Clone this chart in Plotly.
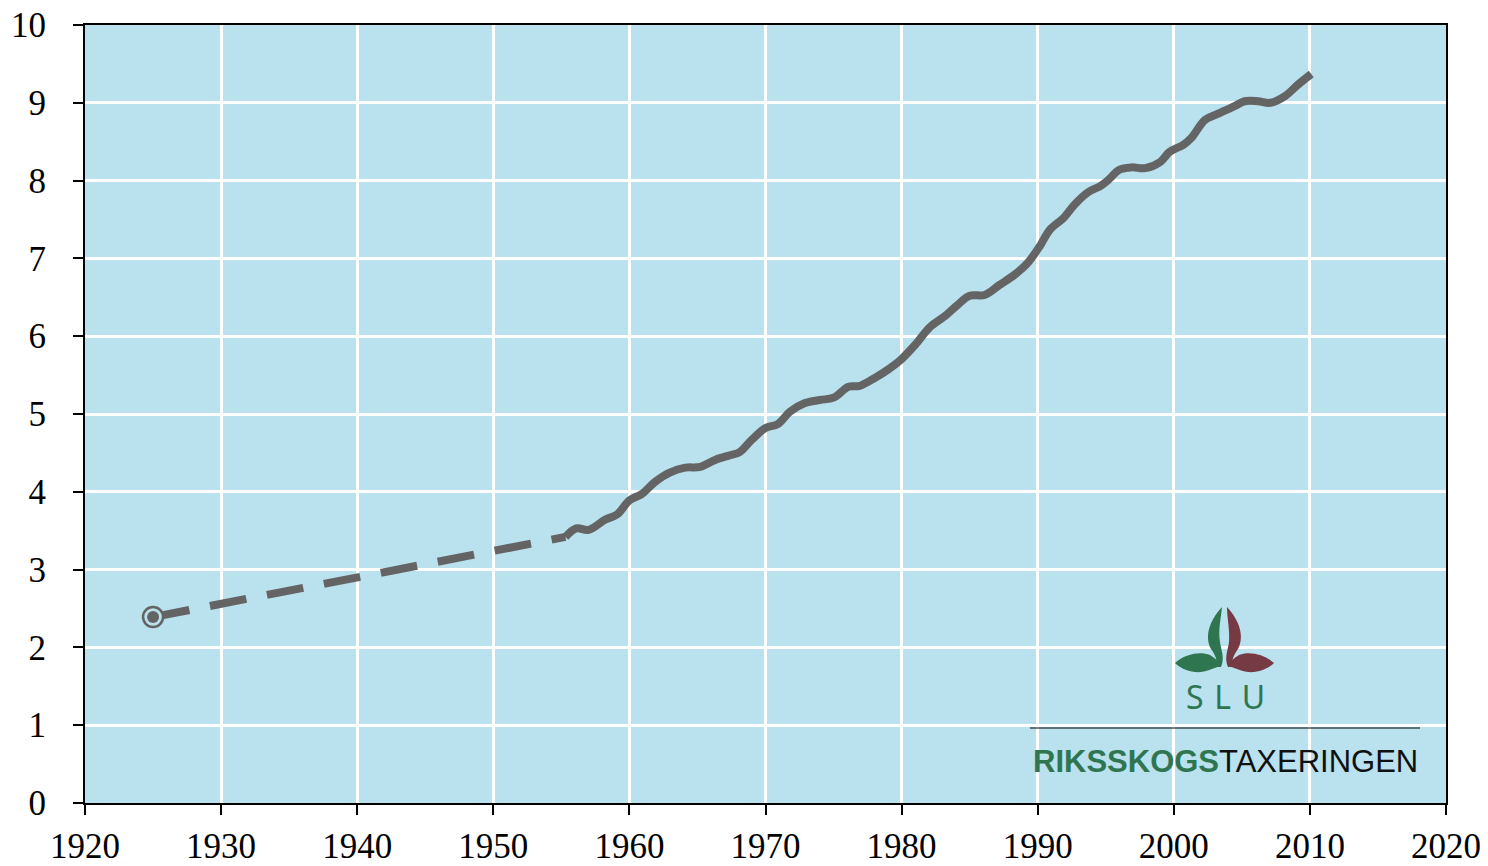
import plotly.graph_objects as go

# Dashed (early estimate) segment
years_dash = [1925, 1940, 1955.3]
vals_dash = [2.39, 2.90, 3.42]

# Solid segment
years_solid = [1955.3, 1956.1, 1957.0, 1958.2, 1959.1, 1960.0, 1960.9, 1961.9, 1963.0, 1964.1,
               1965.2, 1966.3, 1967.4, 1968.1, 1969.0, 1970.0, 1970.9, 1971.8, 1972.9, 1974.0,
               1975.0, 1976.1, 1976.9, 1978.0, 1979.0, 1979.9, 1981.0, 1982.1, 1983.2, 1984.1,
               1985.0, 1986.1, 1987.2, 1988.3, 1989.3, 1990.2, 1990.9, 1991.9, 1992.7, 1993.7,
               1994.6, 1995.2, 1996.0, 1996.9, 1997.9, 1999.0, 1999.7, 2000.7, 2001.3, 2002.3,
               2003.4, 2004.5, 2005.2, 2006.2, 2007.1, 2008.2, 2009.1, 2010.1]
vals_solid = [3.42, 3.53, 3.51, 3.64, 3.71, 3.89, 3.97, 4.13, 4.25, 4.31,
              4.32, 4.41, 4.47, 4.51, 4.67, 4.82, 4.87, 5.03, 5.14, 5.18,
              5.21, 5.35, 5.36, 5.46, 5.57, 5.69, 5.89, 6.12, 6.26, 6.40,
              6.52, 6.53, 6.66, 6.79, 6.95, 7.17, 7.37, 7.52, 7.69, 7.85,
              7.93, 8.01, 8.14, 8.17, 8.16, 8.24, 8.37, 8.46, 8.55, 8.78,
              8.87, 8.96, 9.02, 9.02, 9.00, 9.09, 9.23, 9.37]

x_ticks = [1920, 1930, 1940, 1950, 1960, 1970, 1980, 1990, 2000, 2010, 2020]
y_ticks = list(range(0, 11))

LINE = "#646464"
GREEN = "#2E7550"
MAROON = "#763A44"
BG = "#BAE1EE"

fig = go.Figure()
fig.add_trace(go.Scatter(x=years_dash, y=vals_dash, mode="lines",
                         line=dict(color=LINE, width=8, dash="37px,21px"),
                         showlegend=False, hoverinfo="skip"))
fig.add_trace(go.Scatter(x=years_solid, y=vals_solid, mode="lines",
                         line=dict(color=LINE, width=8, shape="spline", smoothing=1.0),
                         showlegend=False))
# start marker: ring + center dot
fig.add_trace(go.Scatter(x=[years_dash[0]], y=[vals_dash[0]], mode="markers",
                         marker=dict(symbol="circle", size=20, color=BG,
                                     line=dict(color=LINE, width=2.5)),
                         showlegend=False, hoverinfo="skip"))
fig.add_trace(go.Scatter(x=[years_dash[0]], y=[vals_dash[0]], mode="markers",
                         marker=dict(symbol="circle", size=12, color=LINE,
                                     line=dict(width=0)),
                         showlegend=False))

axis_common = dict(showline=True, linecolor="black", linewidth=2, mirror=True,
                   ticks="outside", ticklen=10, tickwidth=1.5, tickcolor="black",
                   showgrid=True, gridcolor="white", gridwidth=3, zeroline=False,
                   automargin=False,
                   tickfont=dict(family="Liberation Serif", size=35, color="black"))

fig.update_xaxes(range=[1920, 2020], tickvals=x_ticks, ticklabelstandoff=1, **axis_common)
fig.update_yaxes(range=[0, 10], tickvals=y_ticks, ticklabelstandoff=20, **axis_common)

W, H = 1488, 866
L, T, PW, PH = 85, 25, 1361, 778

def px(x, y):
    return f"{(x - L) / PW:.5f},{(T + PH - y) / PH:.5f}"

def path_from(seq):
    out = []
    for cmd, pts in seq:
        coords = " ".join(px(*p) for p in pts)
        out.append(f"{cmd}{coords}")
    return " ".join(out) + " Z"

def fx(x):
    return (x - L) / PW

def fy(y):
    return (T + PH - y) / PH

ul = path_from([("M", [(1222, 607)]),
                ("C", [(1210, 620), (1204, 636), (1211, 649)]),
                ("C", [(1216, 656), (1218, 662), (1216, 667)]),
                ("L", [(1221, 667)]),
                ("C", [(1225, 658), (1221, 650), (1220, 642)]),
                ("C", [(1218, 630), (1221, 618), (1222, 607)])])
ll = path_from([("M", [(1175, 663)]),
                ("C", [(1185, 654), (1200, 651), (1210, 655)]),
                ("C", [(1215, 658), (1218, 662), (1221, 662)]),
                ("L", [(1221, 666)]),
                ("C", [(1213, 668), (1205, 673), (1195, 672)]),
                ("C", [(1186, 671), (1179, 667), (1175, 663)])])
ur = path_from([("M", [(1227, 607)]),
                ("C", [(1239, 620), (1245, 636), (1238, 649)]),
                ("C", [(1233, 656), (1231, 662), (1233, 667)]),
                ("L", [(1228, 667)]),
                ("C", [(1224, 658), (1228, 650), (1229, 642)]),
                ("C", [(1230, 630), (1227, 618), (1227, 607)])])
lr = path_from([("M", [(1274, 663)]),
                ("C", [(1264, 654), (1249, 651), (1239, 655)]),
                ("C", [(1234, 658), (1231, 662), (1228, 662)]),
                ("L", [(1228, 666)]),
                ("C", [(1236, 668), (1244, 673), (1254, 672)]),
                ("C", [(1263, 671), (1270, 667), (1274, 663)])])

shapes = [
    dict(type="path", xref="paper", yref="paper", path=ul, fillcolor=GREEN, line=dict(width=0), layer="above"),
    dict(type="path", xref="paper", yref="paper", path=ll, fillcolor=GREEN, line=dict(width=0), layer="above"),
    dict(type="path", xref="paper", yref="paper", path=ur, fillcolor=MAROON, line=dict(width=0), layer="above"),
    dict(type="path", xref="paper", yref="paper", path=lr, fillcolor=MAROON, line=dict(width=0), layer="above"),
    dict(type="line", xref="paper", yref="paper",
         x0=fx(1030), x1=fx(1420), y0=fy(728), y1=fy(728),
         line=dict(color="black", width=1), layer="above"),
]

annotations = [
    dict(xref="paper", yref="paper", x=fx(1225), y=fy(696),
         text="S&#8196;L&#8196;U", showarrow=False, xanchor="center", yanchor="middle",
         font=dict(family="Noto Sans", size=32, color=GREEN)),
    dict(xref="paper", yref="paper", x=fx(1225), y=fy(761),
         text=f"<b><span style='color:{GREEN}'>RIKSSKOGS</span></b>TAXERINGEN",
         showarrow=False, xanchor="center", yanchor="middle",
         font=dict(family="Liberation Sans", size=31, color="#111111")),
]

fig.update_layout(width=W, height=H,
                  margin=dict(l=L, r=W - L - PW, t=T, b=H - T - PH, pad=0),
                  paper_bgcolor="white", plot_bgcolor=BG,
                  shapes=shapes, annotations=annotations, showlegend=False)

fig.write_html("out.html", config={"displayModeBar": False},
               post_script="document.body.style.margin='0';document.body.style.overflow='hidden';")
